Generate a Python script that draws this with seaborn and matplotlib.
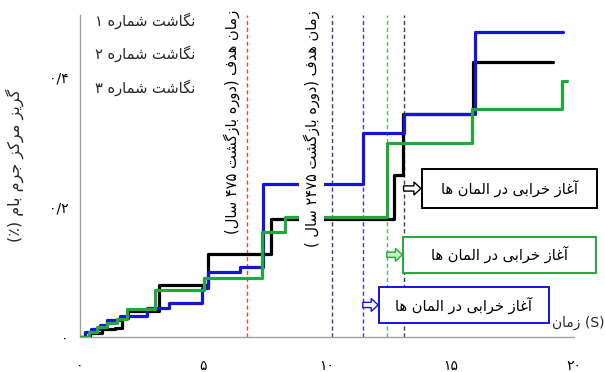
import matplotlib
matplotlib.use("Agg")
import matplotlib.pyplot as plt
import matplotlib.patches as mpatches
import pandas as pd
import seaborn as sns

# ---------------------------------------------------------------------------
# Data: roof centre-of-mass drift (%) against time (s) for three records
# ---------------------------------------------------------------------------
time_1 = [0, 0.4, 0.9, 1.4, 1.7, 1.95, 3.2, 5.2, 7.75, 12.7, 13.07, 15.9, 19.15]
drift_1 = [0, 0.006, 0.012, 0.014, 0.03, 0.04, 0.080, 0.127, 0.181, 0.25, 0.343, 0.423, 0.423]

time_2 = [0, 0.35, 0.7, 1.1, 1.5, 1.92, 3.05, 5.02, 7.37, 8.3, 12.42, 15.87, 19.5, 19.7]
drift_2 = [0, 0.007, 0.015, 0.022, 0.028, 0.043, 0.072, 0.091, 0.162, 0.184, 0.298, 0.351, 0.394, 0.394]

time_3 = [0, 0.2, 0.45, 0.8, 1.1, 1.6, 2.7, 3.6, 4.93, 5.2, 6.48, 7.4, 11.45, 13.1, 16.0, 19.55]
drift_3 = [0, 0.008, 0.013, 0.019, 0.026, 0.033, 0.045, 0.052, 0.075, 0.100, 0.108, 0.235, 0.314, 0.343, 0.469, 0.469]

record_names = ["نگاشت شماره ۱", "نگاشت شماره ۲", "نگاشت شماره ۳"]
record_colors = ["#000000", "#22a83a", "#1414dc"]

# target times (return periods) and damage-onset times per record
target_times = [6.75, 10.2]
target_labels = ["زمان هدف (دوره بازگشت ۴۷۵ سال)", "زمان هدف (دوره بازگشت ۲۴۷۵ سال )"]
target_colors = ["#e04848", "#3c3c80"]

onset_times = [13.1, 12.42, 11.45]
onset_colors = ["#404040", "#4cb86c", "#3c3cd0"]
onset_label = "آغاز خرابی در المان ها"

x_ticks = [0, 5, 10, 15, 20]
x_tick_labels = ["۰", "۵", "۱۰", "۱۵", "۲۰"]
y_ticks = [0, 0.2, 0.4]
y_tick_labels = ["۰", "۰/۲", "۰/۴"]
x_title = "زمان (S)"
y_title = "گریز مرکز جرم بام (٪)"

# ---------------------------------------------------------------------------
# Minimal Persian shaping + right-to-left reordering for matplotlib text
# ---------------------------------------------------------------------------
FORMS = {
    "ا": ("\uFE8D", "\uFE8E", None, None),
    "آ": ("\uFE81", "\uFE82", None, None),
    "ب": ("\uFE8F", "\uFE90", "\uFE91", "\uFE92"),
    "ت": ("\uFE95", "\uFE96", "\uFE97", "\uFE98"),
    "ج": ("\uFE9D", "\uFE9E", "\uFE9F", "\uFEA0"),
    "خ": ("\uFEA5", "\uFEA6", "\uFEA7", "\uFEA8"),
    "د": ("\uFEA9", "\uFEAA", None, None),
    "ر": ("\uFEAD", "\uFEAE", None, None),
    "ز": ("\uFEAF", "\uFEB0", None, None),
    "س": ("\uFEB1", "\uFEB2", "\uFEB3", "\uFEB4"),
    "ش": ("\uFEB5", "\uFEB6", "\uFEB7", "\uFEB8"),
    "غ": ("\uFECD", "\uFECE", "\uFECF", "\uFED0"),
    "ف": ("\uFED1", "\uFED2", "\uFED3", "\uFED4"),
    "ل": ("\uFEDD", "\uFEDE", "\uFEDF", "\uFEE0"),
    "م": ("\uFEE1", "\uFEE2", "\uFEE3", "\uFEE4"),
    "ن": ("\uFEE5", "\uFEE6", "\uFEE7", "\uFEE8"),
    "ه": ("\uFEE9", "\uFEEA", "\uFEEB", "\uFEEC"),
    "و": ("\uFEED", "\uFEEE", None, None),
    "ک": ("\uFB8E", "\uFB8F", "\uFB90", "\uFB91"),
    "گ": ("\uFB92", "\uFB93", "\uFB94", "\uFB95"),
    "ی": ("\uFBFC", "\uFBFD", "\uFBFE", "\uFBFF"),
}
MIRROR = {"(": ")", ")": "("}


def shape(text):
    out = []
    n = len(text)
    for i, ch in enumerate(text):
        if ch not in FORMS:
            out.append(ch)
            continue
        iso, fin, ini, med = FORMS[ch]
        joins_prev = i > 0 and text[i - 1] in FORMS and FORMS[text[i - 1]][2] is not None
        joins_next = ini is not None and i < n - 1 and text[i + 1] in FORMS
        if joins_prev and joins_next:
            out.append(med)
        elif joins_prev:
            out.append(fin)
        elif joins_next:
            out.append(ini)
        else:
            out.append(iso)
    return "".join(out)


def _kind(c):
    o = ord(c)
    if 0x06F0 <= o <= 0x06F9 or (c.isascii() and c.isalnum()):
        return "L"
    if o == 0x066A:
        return "N"
    if 0x0600 <= o <= 0x06FF or 0xFB50 <= o <= 0xFEFF:
        return "R"
    return "N"


def fa(text, base="R"):
    s = shape(text)
    kinds = [_kind(c) for c in s]
    res = kinds[:]
    n = len(s)
    i = 0
    while i < n:
        if kinds[i] == "N":
            j = i
            while j < n and kinds[j] == "N":
                j += 1
            prev = res[i - 1] if i > 0 else base
            nxt = kinds[j] if j < n else base
            d = prev if prev == nxt else base
            for k in range(i, j):
                res[k] = d
            i = j
        else:
            i += 1
    runs = []
    for c, r in zip(s, res):
        if runs and runs[-1][0] == r:
            runs[-1][1].append(c)
        else:
            runs.append([r, [c]])
    parts = []
    for r, chars in runs:
        if r == "R":
            parts.append("".join(MIRROR.get(c, c) for c in reversed(chars)))
        else:
            parts.append("".join(chars))
    if base == "R":
        parts.reverse()
    return "".join(parts)


# ---------------------------------------------------------------------------
# Figure
# ---------------------------------------------------------------------------
sns.set_theme(style="white")
plt.rcParams["font.family"] = ["DejaVu Sans"]

W, H = 605, 372
fig = plt.figure(figsize=(W / 100, H / 100), dpi=100)
ax = fig.add_axes([80 / W, 35 / H, 494 / W, 322 / H])

frames = []
for name, t, d in zip(record_names, [time_1, time_2, time_3], [drift_1, drift_2, drift_3]):
    frames.append(pd.DataFrame({"time": t, "drift": d, "record": name}))
data = pd.concat(frames, ignore_index=True)

# draw order: record 1 (black), record 3 (blue), record 2 (green)
handles = {}
for idx in [0, 2, 1]:
    name = record_names[idx]
    sub = data[data["record"] == name]
    sns.lineplot(data=sub, x="time", y="drift", color=record_colors[idx],
                 drawstyle="steps-post", estimator=None, sort=False,
                 linewidth=2.3, ax=ax, legend=False, zorder=3)
    handles[idx] = ax.lines[-1]

# dashed reference lines
for tt, col in zip(target_times, target_colors):
    ax.axvline(tt, color=col, linestyle=(0, (3, 2)), linewidth=1.0, zorder=2)
for tt, col in zip(onset_times, onset_colors):
    ax.axvline(tt, color=col, linestyle=(0, (3, 2)), linewidth=1.0, zorder=2)

ax.set_xlim(0, 20)
ax.set_ylim(0, 322 / 650)

# target-time captions (vertical, with white background)
target_text_x = [6.15, 9.39]
for xx, lab in zip(target_text_x, target_labels):
    ax.text(xx, 327 / 650, fa(lab), rotation=90, ha="center", va="top",
            fontsize=10.5, color="black", zorder=4, clip_on=False,
            bbox=dict(facecolor="white", edgecolor="none", pad=3))

# damage-onset boxes and hollow arrows
boxes = [  # (x0, x1, y0, y1) per record
    (13.85, 20.93, 0.199, 0.258),
    (13.08, 20.89, 0.099, 0.154),
    (12.10, 18.99, 0.0216, 0.077),
]
arrow_tips = [13.80, 13.05, 12.07]
arrow_fill = ["white", "#c8f0c0", "white"]
for k in range(3):
    x0, x1, y0, y1 = boxes[k]
    col = record_colors[k]
    ax.add_patch(mpatches.Rectangle((x0, y0), x1 - x0, y1 - y0, facecolor="white",
                                    edgecolor=col, linewidth=1.4, clip_on=False, zorder=5))
    ax.text((x0 + x1) / 2, (y0 + y1) / 2, fa(onset_label), ha="center", va="center",
            fontsize=10.5, color="black", zorder=6, clip_on=False)
    ym = (y0 + y1) / 2
    ax.add_patch(mpatches.FancyArrow(onset_times[k], ym, arrow_tips[k] - onset_times[k], 0,
                                     width=0.008, head_width=0.02, head_length=0.28,
                                     length_includes_head=True, facecolor=arrow_fill[k],
                                     edgecolor=col, linewidth=1.0, clip_on=False, zorder=6))

# legend: record names only
leg = ax.legend([handles[0], handles[1], handles[2]], [fa(n) for n in record_names],
                loc="upper right", bbox_to_anchor=(195 / W, (H - 12) / H),
                bbox_transform=fig.transFigure, frameon=False, handlelength=0,
                handletextpad=0, borderpad=0, borderaxespad=0, labelspacing=1.15,
                fontsize=10.5)
for h in leg.legend_handles:
    h.set_visible(False)

# axes styling
for side in ["top", "right"]:
    ax.spines[side].set_visible(False)
for side in ["left", "bottom"]:
    ax.spines[side].set_color("#a0a0a0")
    ax.spines[side].set_linewidth(1.0)

ax.set_xticks(x_ticks)
ax.set_xticklabels(x_tick_labels)
ax.set_yticks(y_ticks)
ax.set_yticklabels(y_tick_labels)
ax.tick_params(axis="both", which="both", direction="out", length=4, width=1,
               color="#a0a0a0", labelcolor="black", labelsize=10)
ax.tick_params(axis="x", pad=12)
ax.tick_params(axis="y", pad=4)

ax.set_xlabel(fa(x_title, base="L"), fontsize=10, ha="right", va="center")
ax.xaxis.set_label_coords((604 - 80) / 494, (337 - 323) / 322)
ax.set_ylabel(fa(y_title), fontsize=11.5, ha="center", va="center")
ax.yaxis.set_label_coords((15 - 80) / 494, (337 - 165) / 322)

fig.savefig("out.png", dpi=100)
